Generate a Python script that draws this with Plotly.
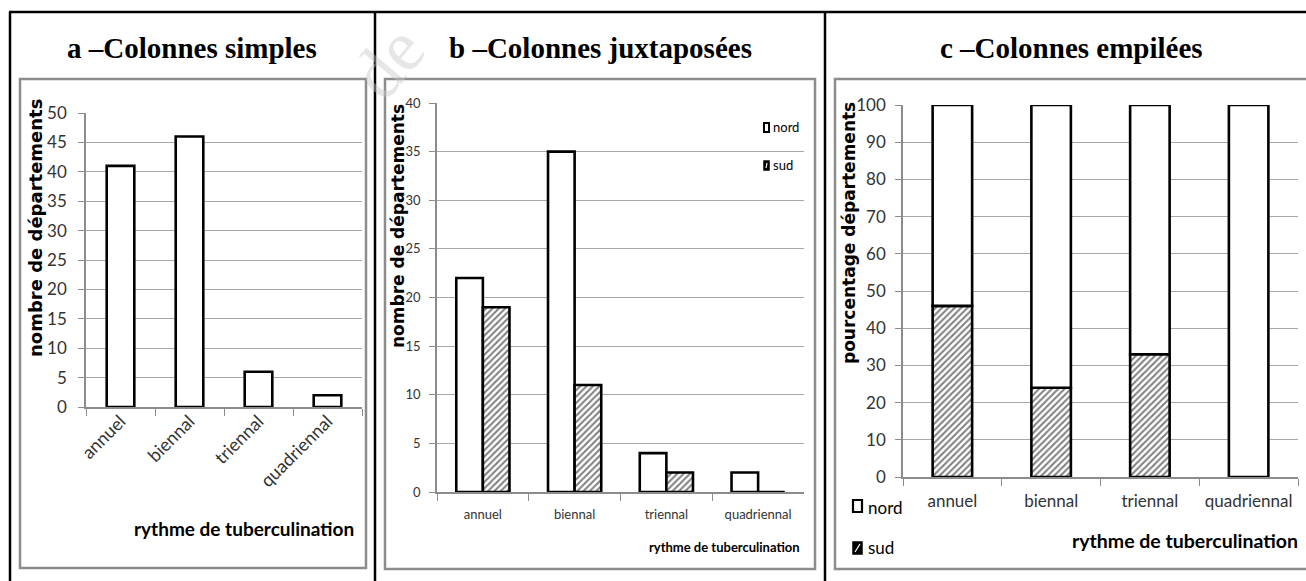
import plotly.graph_objects as go

# ---------------- data ----------------
categories = ["annuel", "biennal", "triennal", "quadriennal"]
a_values = [41, 46, 6, 2]                # nombre de départements
b_nord = [22, 35, 4, 2]
b_sud = [19, 11, 2, 0]
c_nord = [54, 76, 67, 100]               # pourcentage
c_sud = [46, 24, 33, 0]
a_yticks = [0, 5, 10, 15, 20, 25, 30, 35, 40, 45, 50]
b_yticks = [0, 5, 10, 15, 20, 25, 30, 35, 40]
c_yticks = [0, 10, 20, 30, 40, 50, 60, 70, 80, 90, 100]

W, H = 1306, 581
def fx(x): return x / W
def fy(y): return 1 - y / H

CAL = "Lato, Carlito, 'Open Sans', sans-serif"
NARROW = "'Liberation Sans Narrow', 'Arial Narrow', Lato, sans-serif"
VERD = "'DejaVu Sans', Verdana, sans-serif"
SERIF = "'Liberation Serif', 'Times New Roman', serif"
GRID = "#a8a8a8"
AX = "#8c8c8c"
TXT = "#333333"

white_bar = dict(color="white", line=dict(color="black", width=2.6))
hatch_bar = dict(color="white", line=dict(color="black", width=2.6),
                 pattern=dict(shape="/", fgcolor="black", bgcolor="white", size=4.5, solidity=0.45))

fig = go.Figure()
fig.add_trace(go.Bar(x=categories, y=a_values, xaxis="x", yaxis="y", width=0.4,
                     marker=white_bar, showlegend=False))
fig.add_trace(go.Bar(x=categories, y=b_nord, xaxis="x2", yaxis="y2", width=0.29, offset=-0.29,
                     marker=white_bar, name="nord", showlegend=False))
fig.add_trace(go.Bar(x=categories, y=b_sud, xaxis="x2", yaxis="y2", width=0.29, offset=0,
                     marker=hatch_bar, name="sud", showlegend=False))
fig.add_trace(go.Bar(x=categories, y=c_sud, xaxis="x3", yaxis="y3", width=0.4, base=0,
                     marker=hatch_bar, name="sud", showlegend=False))
fig.add_trace(go.Bar(x=categories, y=c_nord, xaxis="x3", yaxis="y3", width=0.4, base=c_sud,
                     marker=white_bar, name="nord", showlegend=False))

def xax(dom, anchor, font, standoff, angle=0):
    return dict(domain=[fx(dom[0]), fx(dom[1])], anchor=anchor, type="category",
                tickson="boundaries", ticks="outside", ticklen=7, tickcolor=AX, tickwidth=1,
                showline=True, linecolor=AX, linewidth=1.5, showgrid=False,
                tickfont=font, tickangle=angle, ticklabelstandoff=standoff,
                range=[-0.5, 3.5], fixedrange=True, automargin=False)

def yax(dom, anchor, rng, vals, font, standoff):
    return dict(domain=[fy(dom[1]), fy(dom[0])], anchor=anchor, range=rng,
                tickvals=vals, ticks="outside", ticklen=6, tickcolor=AX,
                showline=True, linecolor=AX, linewidth=1.5,
                showgrid=True, gridcolor=GRID, gridwidth=1, zeroline=False,
                tickfont=font, ticklabelstandoff=standoff, fixedrange=True, automargin=False)

fa = dict(family=CAL, size=17, color=TXT)
fb = dict(family=NARROW, size=13, color=TXT)
fc = dict(family=CAL, size=17, color=TXT)

fig.update_layout(
    width=W, height=H, autosize=False,
    margin=dict(l=0, r=0, t=0, b=0, pad=0, autoexpand=False),
    paper_bgcolor="white", plot_bgcolor="white", barmode="overlay", showlegend=False,
    xaxis=xax((86, 362), "y", dict(family=CAL, size=18, color=TXT), -5, angle=-45),
    yaxis=yax((113, 407), "x", [0, 50], a_yticks, fa, 8),
    xaxis2=xax((437, 804), "y2", fb, 10),
    yaxis2=yax((103, 492), "x2", [0, 40], b_yticks, fb, 6),
    xaxis3=xax((903, 1298), "y3", fc, 8),
    yaxis3=yax((105, 477), "x3", [0, 100], c_yticks, fc, 6),
)

shapes = []
# table borders
shapes.append(dict(type="line", xref="paper", yref="paper", x0=fx(9), x1=fx(1306), y0=fy(12), y1=fy(12),
                   line=dict(color="black", width=2.5)))
for xv in (10, 375, 825):
    shapes.append(dict(type="line", xref="paper", yref="paper", x0=fx(xv), x1=fx(xv), y0=fy(12), y1=fy(581),
                       line=dict(color="black", width=2.5)))
# gray chart frames
for (x0, x1, y1) in ((20, 366, 568), (385, 815, 569), (835, 1312, 569)):
    shapes.append(dict(type="rect", xref="paper", yref="paper", x0=fx(x0), x1=fx(x1), y0=fy(79), y1=fy(y1),
                       line=dict(color=AX, width=2.5), fillcolor="rgba(0,0,0,0)"))

# manual legend keys
def key(x0, x1, y0, y1, hatched, lw):
    shapes.append(dict(type="rect", xref="paper", yref="paper", x0=fx(x0), x1=fx(x1), y0=fy(y0), y1=fy(y1),
                       line=dict(color="black", width=lw), fillcolor="black" if hatched else "white"))
    if hatched:
        shapes.append(dict(type="line", xref="paper", yref="paper", x0=fx(x0 + 2), x1=fx(x1 - 2),
                           y0=fy(y1 - 2), y1=fy(y0 + 2), line=dict(color="white", width=1.2)))

key(764, 769, 123, 132, False, 2)
key(764, 769, 161, 170, True, 1.5)
key(853, 862, 500, 512, False, 2.2)
key(853, 862, 542, 554, True, 1.5)

annotations = []
def ann(text, x, y, font, xanchor="center", angle=0):
    annotations.append(dict(text=text, xref="paper", yref="paper", x=fx(x), y=fy(y), xanchor=xanchor,
                            yanchor="middle", showarrow=False, font=font, textangle=angle))

title_font = dict(family=SERIF, size=29, color="black", weight="bold")
ann("a –Colonnes simples", 192, 48, title_font)
ann("b –Colonnes juxtaposées", 600, 48, title_font)
ann("c –Colonnes empilées", 1071, 48, title_font)

ann("nombre de départements", 35, 228, dict(family=VERD, size=18, color="black", weight="bold"), angle=-90)
ann("nombre de départements", 398, 226, dict(family=VERD, size=17, color="black", weight="bold"), angle=-90)
ann("pourcentage départements", 849, 233, dict(family=VERD, size=17, color="black", weight="bold"), angle=-90)

ann("rythme de tuberculination", 356, 528, dict(family=CAL, size=19, color="black", weight="bold"), xanchor="right")
ann("rythme de tuberculination", 802, 547, dict(family=NARROW, size=13, color="black", weight="bold"), xanchor="right")
ann("rythme de tuberculination", 1300, 540, dict(family=CAL, size=19.5, color="black", weight="bold"), xanchor="right")

ann("nord", 771, 127, dict(family=NARROW, size=13, color="black"), xanchor="left")
ann("sud", 771, 165, dict(family=NARROW, size=13, color="black"), xanchor="left")
ann("nord", 866, 507, dict(family=CAL, size=17, color="black"), xanchor="left")
ann("sud", 866, 547, dict(family=CAL, size=17, color="black"), xanchor="left")

# faint watermark
ann("de", 388, 62, dict(family=SERIF, size=72, color="rgba(200,200,200,0.45)"), angle=-50)

fig.update_layout(shapes=shapes, annotations=annotations)
fig.write_html("out.html")
